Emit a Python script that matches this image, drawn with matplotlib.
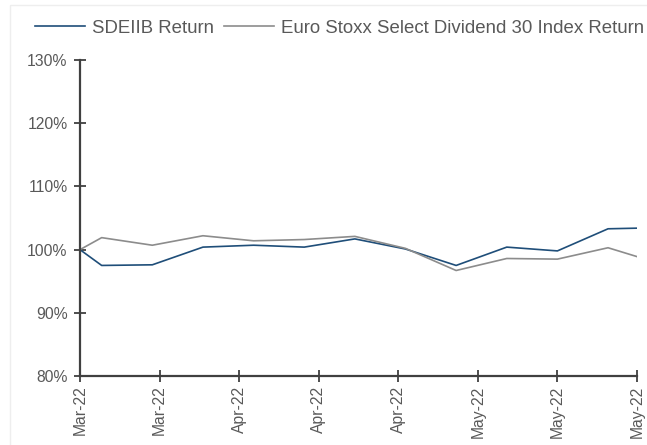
import numpy as np
import matplotlib.pyplot as plt
import matplotlib.dates as mdates
from matplotlib.ticker import FuncFormatter
import pandas as pd

plt.rcParams['font.family'] = ['Liberation Sans', 'DejaVu Sans']

dates = pd.to_datetime([
    '2022-03-10', '2022-03-13', '2022-03-20', '2022-03-27', '2022-04-03',
    '2022-04-10', '2022-04-17', '2022-04-24', '2022-05-01', '2022-05-08',
    '2022-05-15', '2022-05-22', '2022-05-26',
])
sdeiib = [100.0, 97.5, 97.6, 100.4, 100.7, 100.4, 101.7, 100.1, 97.5, 100.4, 99.8, 103.3, 103.4]
euro_stoxx = [100.0, 101.9, 100.7, 102.2, 101.4, 101.6, 102.1, 100.2, 96.7, 98.6, 98.5, 100.3, 98.9]
tick_dates = pd.date_range('2022-03-10', '2022-05-26', freq='11D')

axis_col = '#404040'
label_col = '#595959'

fig = plt.figure(figsize=(6.47, 4.45), dpi=100)
ax = fig.add_axes([0.1236, 0.155, 0.8609, 0.71])

# faint outer frame
fig.patches.append(plt.Rectangle((10 / 647, -0.1), 1.1, 1.1 - 5 / 445, transform=fig.transFigure,
                                 fill=False, edgecolor='#eeeeee', linewidth=1, zorder=0))

ax.plot(dates, sdeiib, color='#1f4e79', linewidth=1.2, label='SDEIIB Return')
ax.plot(dates, euro_stoxx, color='#8c8c8c', linewidth=1.2, label='Euro Stoxx Select Dividend 30 Index Return')

ax.set_ylim(80, 130)
ax.set_yticks(np.arange(80, 131, 10))
ax.yaxis.set_major_formatter(FuncFormatter(lambda v, p: f'{v:.0f}%'))
ax.set_xlim(tick_dates[0], tick_dates[-1])
ax.set_xticks(tick_dates)
ax.xaxis.set_major_formatter(mdates.DateFormatter('%b-%y'))
plt.setp(ax.get_xticklabels(), rotation=90)

for side in ['top', 'right']:
    ax.spines[side].set_visible(False)
for side in ['left', 'bottom']:
    ax.spines[side].set_color(axis_col)
    ax.spines[side].set_linewidth(1.6)
ax.tick_params(direction='inout', length=8, width=1.3, color=axis_col,
               labelcolor=label_col, labelsize=11.3)
ax.tick_params(axis='y', pad=5)
ax.tick_params(axis='x', pad=3)

fig.legend(*ax.get_legend_handles_labels(), loc='center left',
           bbox_to_anchor=(35 / 647, 1 - 28 / 445), ncol=2, frameon=False,
           fontsize=13.4, handlelength=2.7, handletextpad=0.38, columnspacing=0.5,
           borderpad=0, borderaxespad=0, labelcolor=label_col)

fig.savefig('out.png', dpi=100)
